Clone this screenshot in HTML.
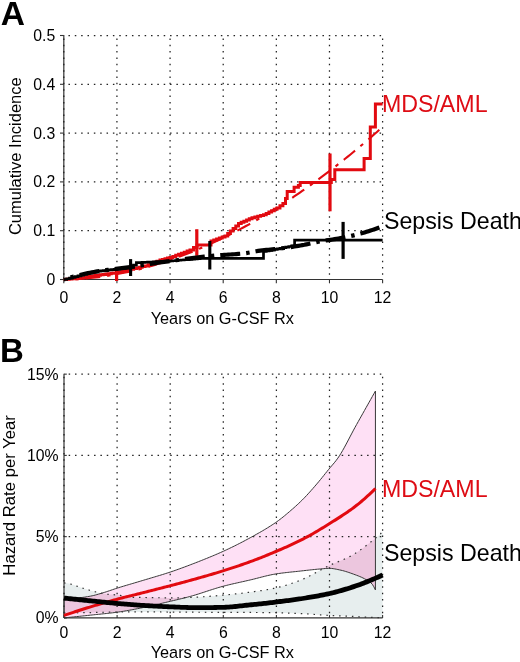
<!DOCTYPE html>
<html><head><meta charset="utf-8"><style>
html,body{margin:0;padding:0;background:#fff;}
svg{display:block;filter:blur(0.35px);font-family:"Liberation Sans", sans-serif;}
</style></head><body>
<svg width="520" height="662" viewBox="0 0 520 662">
<rect width="520" height="662" fill="#fff"/>
<g id="A">
<line x1="63.8" y1="35" x2="63.8" y2="279.5" stroke="#444" stroke-width="1.3"/>
<line x1="63.8" y1="279.5" x2="382.6" y2="279.5" stroke="#333" stroke-width="1.1"/>
<line x1="63.8" y1="279.5" x2="63.8" y2="283.3" stroke="#333" stroke-width="1.1"/>
<line x1="116.93" y1="279.5" x2="116.93" y2="283.3" stroke="#333" stroke-width="1.1"/>
<line x1="170.07" y1="279.5" x2="170.07" y2="283.3" stroke="#333" stroke-width="1.1"/>
<line x1="223.2" y1="279.5" x2="223.2" y2="283.3" stroke="#333" stroke-width="1.1"/>
<line x1="276.33" y1="279.5" x2="276.33" y2="283.3" stroke="#333" stroke-width="1.1"/>
<line x1="329.47" y1="279.5" x2="329.47" y2="283.3" stroke="#333" stroke-width="1.1"/>
<line x1="382.6" y1="279.5" x2="382.6" y2="283.3" stroke="#333" stroke-width="1.1"/>
<line x1="63.8" y1="279.5" x2="60" y2="279.5" stroke="#333" stroke-width="1.1"/>
<line x1="63.8" y1="230.7" x2="60" y2="230.7" stroke="#333" stroke-width="1.1"/>
<line x1="63.8" y1="181.9" x2="60" y2="181.9" stroke="#333" stroke-width="1.1"/>
<line x1="63.8" y1="133.1" x2="60" y2="133.1" stroke="#333" stroke-width="1.1"/>
<line x1="63.8" y1="84.3" x2="60" y2="84.3" stroke="#333" stroke-width="1.1"/>
<line x1="63.8" y1="35.5" x2="60" y2="35.5" stroke="#333" stroke-width="1.1"/>
<line x1="63.8" y1="279.5" x2="63.8" y2="35.5" stroke="#222" stroke-width="1.25" stroke-dasharray="1.5 4.85" stroke-dashoffset="1.7" fill="none"/>
<line x1="116.93" y1="279.5" x2="116.93" y2="35.5" stroke="#222" stroke-width="1.25" stroke-dasharray="1.5 4.85" stroke-dashoffset="1.7" fill="none"/>
<line x1="170.07" y1="279.5" x2="170.07" y2="35.5" stroke="#222" stroke-width="1.25" stroke-dasharray="1.5 4.85" stroke-dashoffset="1.7" fill="none"/>
<line x1="223.2" y1="279.5" x2="223.2" y2="35.5" stroke="#222" stroke-width="1.25" stroke-dasharray="1.5 4.85" stroke-dashoffset="1.7" fill="none"/>
<line x1="276.33" y1="279.5" x2="276.33" y2="35.5" stroke="#222" stroke-width="1.25" stroke-dasharray="1.5 4.85" stroke-dashoffset="1.7" fill="none"/>
<line x1="329.47" y1="279.5" x2="329.47" y2="35.5" stroke="#222" stroke-width="1.25" stroke-dasharray="1.5 4.85" stroke-dashoffset="1.7" fill="none"/>
<line x1="382.6" y1="279.5" x2="382.6" y2="35.5" stroke="#222" stroke-width="1.25" stroke-dasharray="1.5 4.85" stroke-dashoffset="1.7" fill="none"/>
<line x1="63.8" y1="230.7" x2="382.6" y2="230.7" stroke="#222" stroke-width="1.25" stroke-dasharray="1.5 4.85" stroke-dashoffset="1.7" fill="none"/>
<line x1="63.8" y1="181.9" x2="382.6" y2="181.9" stroke="#222" stroke-width="1.25" stroke-dasharray="1.5 4.85" stroke-dashoffset="1.7" fill="none"/>
<line x1="63.8" y1="133.1" x2="382.6" y2="133.1" stroke="#222" stroke-width="1.25" stroke-dasharray="1.5 4.85" stroke-dashoffset="1.7" fill="none"/>
<line x1="63.8" y1="84.3" x2="382.6" y2="84.3" stroke="#222" stroke-width="1.25" stroke-dasharray="1.5 4.85" stroke-dashoffset="1.7" fill="none"/>
<line x1="63.8" y1="35.5" x2="382.6" y2="35.5" stroke="#222" stroke-width="1.25" stroke-dasharray="1.5 4.85" stroke-dashoffset="1.7" fill="none"/>
<polyline points="63.8,279.5 66.5,279.5 66.5,279.28 69.2,279.28 69.2,279.07 71.9,279.07 71.9,278.85 74.6,278.85 74.6,278.63 77.3,278.63 77.3,278.42 80,278.42 80,278.2 83,278.2 83,277.66 86,277.66 86,277.12 89,277.12 89,276.58 92,276.58 92,276.04 95,276.04 95,275.5 97.7,275.5 97.7,275.14 100.4,275.14 100.4,274.77 103.1,274.77 103.1,274.41 105.8,274.41 105.8,274.05 108.5,274.05 108.5,273.69 111.2,273.69 111.2,273.33 113.9,273.33 113.9,272.96 116.6,272.96 116.6,272.6 119.44,272.6 119.44,271.93 122.28,271.93 122.28,271.26 125.12,271.26 125.12,270.59 127.96,270.59 127.96,269.92 130.8,269.92 130.8,269.25 133.64,269.25 133.64,268.58 136.48,268.58 136.48,267.91 139.32,267.91 139.32,267.24 142.16,267.24 142.16,266.57 145,266.57 145,265.9 148,265.9 148,264.72 151,264.72 151,263.54 154,263.54 154,262.36 157,262.36 157,261.18 160,261.18 160,260 162.5,260 162.5,259.38 165,259.38 165,258.75 167.5,258.75 167.5,258.12 170,258.12 170,257.5 172.86,257.5 172.86,256.43 175.71,256.43 175.71,255.36 178.57,255.36 178.57,254.29 181.43,254.29 181.43,253.21 184.29,253.21 184.29,252.14 187.14,252.14 187.14,251.07 190,251.07 190,250 193.5,250 193.5,247.5 197,247.5 197,245 211,245 211,241 213.8,241 213.8,240 216.6,240 216.6,239 219.4,239 219.4,238 222.2,238 222.2,237 225,237 225,236 227.7,236 227.7,233.5 230.4,233.5 230.4,231 233.1,231 233.1,228.5 235.8,228.5 235.8,226 238.5,226 238.5,223.5 241.2,223.5 241.2,222.34 243.9,222.34 243.9,221.18 246.6,221.18 246.6,220.02 249.3,220.02 249.3,218.86 252,218.86 252,217.7 254.88,217.7 254.88,216.97 257.75,216.97 257.75,216.25 260.62,216.25 260.62,215.53 263.5,215.53 263.5,214.8 266.2,214.8 266.2,213.44 268.9,213.44 268.9,212.08 271.6,212.08 271.6,210.72 274.3,210.72 274.3,209.36 277,209.36 277,208 279.95,208 279.95,205.8 282.9,205.8 282.9,203.6 285.5,203.6 285.5,198.4 287.2,198.4 287.2,191.5 294.1,191.5 294.1,187.2 298.4,187.2 298.4,185.5 300.2,185.5 300.2,182.5 331.3,182.5 331.3,179.4 334.8,179.4 334.8,169.7 364.1,169.7 364.1,158.4 370.3,158.4 370.3,127 375.4,127 375.4,104 382.6,104" fill="none" stroke="#e20a10" stroke-width="3" stroke-linejoin="miter"/>
<polyline points="63.8,279.5 66.48,279.48 69.16,279.43 71.84,279.35 74.52,279.24 77.19,279.1 79.87,278.93 82.55,278.75 85.23,278.53 87.91,278.29 90.59,278.03 93.27,277.74 95.95,277.43 98.63,277.09 101.31,276.73 103.98,276.35 106.66,275.95 109.34,275.52 112.02,275.07 114.7,274.6 117.38,274.1 120.06,273.59 122.74,273.05 125.42,272.49 128.1,271.91 130.77,271.3 133.45,270.68 136.13,270.03 138.81,269.36 141.49,268.67 144.17,267.96 146.85,267.23 149.53,266.48 152.21,265.71 154.89,264.91 157.56,264.1 160.24,263.26 162.92,262.41 165.6,261.53 168.28,260.64 170.96,259.72 173.64,258.78 176.32,257.83 179,256.85 181.68,255.85 184.35,254.83 187.03,253.8 189.71,252.74 192.39,251.66 195.07,250.57 197.75,249.45 200.43,248.31 203.11,247.16 205.79,245.98 208.47,244.79 211.14,243.57 213.82,242.34 216.5,241.09 219.18,239.81 221.86,238.52 224.54,237.21 227.22,235.88 229.9,234.53 232.58,233.16 235.26,231.77 237.93,230.37 240.61,228.94 243.29,227.49 245.97,226.03 248.65,224.55 251.33,223.05 254.01,221.52 256.69,219.98 259.37,218.43 262.05,216.85 264.72,215.25 267.4,213.64 270.08,212.01 272.76,210.35 275.44,208.68 278.12,206.99 280.8,205.29 283.48,203.56 286.16,201.81 288.84,200.05 291.51,198.27 294.19,196.47 296.87,194.65 299.55,192.81 302.23,190.96 304.91,189.09 307.59,187.19 310.27,185.28 312.95,183.36 315.63,181.41 318.3,179.44 320.98,177.46 323.66,175.46 326.34,173.44 329.02,171.4 331.7,169.35 334.38,167.28 337.06,165.18 339.74,163.08 342.42,160.95 345.09,158.8 347.77,156.64 350.45,154.46 353.13,152.26 355.81,150.04 358.49,147.81 361.17,145.56 363.85,143.29 366.53,141 369.21,138.69 371.88,136.37 374.56,134.03 377.24,131.67 379.92,129.29 382.6,126.9" fill="none" stroke="#e20a10" stroke-width="2.1" stroke-dasharray="14.5 7 3.5 7" stroke-dashoffset="9.96"/>
<line x1="116.6" y1="268.5" x2="116.6" y2="281" stroke="#e20a10" stroke-width="3.2"/>
<line x1="196.8" y1="229.2" x2="196.8" y2="255.8" stroke="#e20a10" stroke-width="3.2"/>
<line x1="330" y1="153.5" x2="330" y2="211.3" stroke="#e20a10" stroke-width="3.2"/>
<polyline points="63.8,279.5 66.64,279.5 66.64,278.77 69.47,278.77 69.47,278.05 72.31,278.05 72.31,277.32 75.15,277.32 75.15,276.59 77.98,276.59 77.98,275.86 80.82,275.86 80.82,275.14 83.65,275.14 83.65,274.41 86.49,274.41 86.49,273.68 89.33,273.68 89.33,272.95 92.16,272.95 92.16,272.23 95,272.23 95,271.5 97.74,271.5 97.74,271.19 100.48,271.19 100.48,270.88 103.22,270.88 103.22,270.58 105.95,270.58 105.95,270.27 108.69,270.27 108.69,269.96 111.43,269.96 111.43,269.65 114.17,269.65 114.17,269.35 116.91,269.35 116.91,269.04 119.65,269.04 119.65,268.73 122.38,268.73 122.38,268.42 125.12,268.42 125.12,268.12 127.86,268.12 127.86,267.81 130.6,267.81 130.6,267.5 133.5,267.5 133.5,265.1 136.4,265.1 136.4,262.7 139.2,262.7 139.2,262.56 142,262.56 142,262.42 144.8,262.42 144.8,262.27 147.6,262.27 147.6,262.13 150.4,262.13 150.4,261.99 153.2,261.99 153.2,261.85 156,261.85 156,261.71 158.8,261.71 158.8,261.57 161.6,261.57 161.6,261.43 164.4,261.43 164.4,261.28 167.2,261.28 167.2,261.14 170,261.14 170,261 172.73,261 172.73,260.75 175.45,260.75 175.45,260.51 178.18,260.51 178.18,260.26 180.91,260.26 180.91,260.02 183.64,260.02 183.64,259.77 186.36,259.77 186.36,259.53 189.09,259.53 189.09,259.28 191.82,259.28 191.82,259.04 194.55,259.04 194.55,258.79 197.27,258.79 197.27,258.55 200,258.55 200,258.3 263.5,258.3 263.5,251.5 266.25,251.5 266.25,250.98 269,250.98 269,250.47 271.75,250.47 271.75,249.95 274.5,249.95 274.5,249.43 277.25,249.43 277.25,248.92 280,248.92 280,248.4 282.92,248.4 282.92,247.76 285.84,247.76 285.84,247.12 288.76,247.12 288.76,246.48 291.68,246.48 291.68,245.84 294.6,245.84 294.6,245.2 294.6,240.2 382.6,240.2" fill="none" stroke="#000" stroke-width="2.7"/>
<polyline points="63.8,279.5 65.81,278.89 67.81,278.29 69.82,277.7 71.82,277.12 73.83,276.55 75.83,276 77.84,275.47 79.84,274.95 81.85,274.46 83.85,273.99 85.86,273.54 87.86,273.12 89.87,272.73 91.87,272.36 93.88,272.01 95.88,271.67 97.89,271.35 99.89,271.04 101.9,270.75 103.9,270.46 105.91,270.19 107.91,269.92 109.92,269.65 111.92,269.39 113.93,269.14 115.93,268.88 117.94,268.63 119.94,268.37 121.95,268.11 123.95,267.84 125.96,267.57 127.96,267.29 129.97,267 131.97,266.71 133.98,266.41 135.98,266.1 137.99,265.8 139.99,265.49 142,265.18 144,264.87 146.01,264.56 148.01,264.25 150.02,263.95 152.02,263.65 154.03,263.35 156.03,263.06 158.04,262.77 160.04,262.49 162.05,262.22 164.05,261.94 166.06,261.66 168.06,261.38 170.07,261.11 172.07,260.83 174.08,260.55 176.08,260.28 178.09,260 180.09,259.73 182.1,259.46 184.1,259.19 186.11,258.92 188.11,258.66 190.12,258.4 192.12,258.14 194.13,257.89 196.13,257.64 198.14,257.4 200.14,257.16 202.15,256.93 204.15,256.7 206.16,256.48 208.16,256.26 210.17,256.05 212.17,255.85 214.18,255.66 216.18,255.47 218.19,255.3 220.19,255.14 222.2,254.99 224.2,254.86 226.21,254.73 228.21,254.61 230.22,254.48 232.22,254.36 234.23,254.23 236.23,254.09 238.24,253.93 240.24,253.77 242.25,253.58 244.25,253.36 246.26,253.08 248.26,252.75 250.27,252.39 252.27,252.01 254.28,251.63 256.28,251.27 258.29,250.93 260.29,250.64 262.3,250.39 264.3,250.17 266.31,249.96 268.31,249.77 270.32,249.58 272.32,249.39 274.33,249.19 276.33,248.98 278.34,248.76 280.34,248.51 282.35,248.25 284.35,247.99 286.36,247.71 288.36,247.42 290.37,247.13 292.37,246.82 294.38,246.51 296.38,246.19 298.39,245.86 300.39,245.51 302.4,245.16 304.4,244.79 306.41,244.37 308.41,243.94 310.42,243.49 312.42,243.03 314.43,242.58 316.43,242.15 318.44,241.73 320.44,241.36 322.45,241.01 324.45,240.69 326.46,240.39 328.46,240.09 330.47,239.8 332.47,239.5 334.48,239.2 336.48,238.88 338.49,238.53 340.49,238.16 342.5,237.77 344.5,237.36 346.51,236.94 348.51,236.51 350.52,236.06 352.52,235.59 354.53,235.11 356.53,234.61 358.54,234.09 360.54,233.56 362.55,233.01 364.55,232.43 366.56,231.82 368.56,231.19 370.57,230.54 372.57,229.87 374.58,229.17 376.58,228.46 378.59,227.72 380.59,226.97 382.6,226.2" fill="none" stroke="#000" stroke-width="4.2" stroke-dasharray="20 6 3.5 6" stroke-dashoffset="18.97"/>
<line x1="130.6" y1="259.1" x2="130.6" y2="276" stroke="#000" stroke-width="3.1"/>
<line x1="209.8" y1="241" x2="209.8" y2="269.5" stroke="#000" stroke-width="3.1"/>
<line x1="343.1" y1="221.9" x2="343.1" y2="258.9" stroke="#000" stroke-width="3.2"/>
<text x="55.3" y="285" font-size="15.8" text-anchor="end" fill="#000" font-weight="normal" >0</text>
<text x="55.3" y="236.2" font-size="15.8" text-anchor="end" fill="#000" font-weight="normal" >0.1</text>
<text x="55.3" y="187.4" font-size="15.8" text-anchor="end" fill="#000" font-weight="normal" >0.2</text>
<text x="55.3" y="138.6" font-size="15.8" text-anchor="end" fill="#000" font-weight="normal" >0.3</text>
<text x="55.3" y="89.8" font-size="15.8" text-anchor="end" fill="#000" font-weight="normal" >0.4</text>
<text x="55.3" y="41" font-size="15.8" text-anchor="end" fill="#000" font-weight="normal" >0.5</text>
<text x="63.8" y="302.8" font-size="15.8" text-anchor="middle" fill="#000" font-weight="normal" >0</text>
<text x="116.93" y="302.8" font-size="15.8" text-anchor="middle" fill="#000" font-weight="normal" >2</text>
<text x="170.07" y="302.8" font-size="15.8" text-anchor="middle" fill="#000" font-weight="normal" >4</text>
<text x="223.2" y="302.8" font-size="15.8" text-anchor="middle" fill="#000" font-weight="normal" >6</text>
<text x="276.33" y="302.8" font-size="15.8" text-anchor="middle" fill="#000" font-weight="normal" >8</text>
<text x="329.47" y="302.8" font-size="15.8" text-anchor="middle" fill="#000" font-weight="normal" >10</text>
<text x="382.6" y="302.8" font-size="15.8" text-anchor="middle" fill="#000" font-weight="normal" >12</text>
<text x="222.3" y="324.2" font-size="16.3" text-anchor="middle" fill="#000" font-weight="normal" >Years on G-CSF Rx</text>
<text x="20.8" y="156.2" font-size="16.5" text-anchor="middle" fill="#000" font-weight="normal" transform="rotate(-90 20.8 156.2)">Cumulative Incidence</text>
<text x="381.9" y="111.5" font-size="23.2" text-anchor="start" fill="#de0c14" font-weight="normal" >MDS/AML</text>
<text x="384" y="228.9" font-size="23.2" text-anchor="start" fill="#000" font-weight="normal" >Sepsis Death</text>
<text x="0.8" y="24.9" font-size="33.5" text-anchor="start" fill="#000" font-weight="bold" >A</text>
</g>
<g id="B">
<defs><clipPath id="gclip"><polygon points="64,582.96 65.6,583.11 67.2,583.33 68.8,583.6 70.4,583.99 72.01,584.46 73.61,585.01 75.21,585.59 76.81,586.18 78.41,586.76 80.01,587.29 81.61,587.79 83.21,588.3 84.81,588.8 86.41,589.3 88.02,589.79 89.62,590.27 91.22,590.72 92.82,591.15 94.42,591.56 96.02,591.98 97.62,592.4 99.22,592.8 100.82,593.18 102.42,593.52 104.03,593.82 105.63,594.07 107.23,594.25 108.83,594.39 110.43,594.51 112.03,594.61 113.63,594.71 115.23,594.82 116.83,594.96 118.43,595.16 120.04,595.42 121.64,595.74 123.24,596.09 124.84,596.43 126.44,596.74 128.04,597 129.64,597.19 131.24,597.27 132.84,597.32 134.44,597.35 136.05,597.38 137.65,597.41 139.25,597.44 140.85,597.46 142.45,597.47 144.05,597.49 145.65,597.51 147.25,597.53 148.85,597.55 150.45,597.57 152.06,597.59 153.66,597.63 155.26,597.66 156.86,597.7 158.46,597.73 160.06,597.77 161.66,597.8 163.26,597.84 164.86,597.87 166.46,597.89 168.07,597.9 169.67,597.91 171.27,597.91 172.87,597.9 174.47,597.88 176.07,597.85 177.67,597.82 179.27,597.78 180.87,597.74 182.47,597.68 184.08,597.63 185.68,597.57 187.28,597.51 188.88,597.44 190.48,597.37 192.08,597.3 193.68,597.23 195.28,597.16 196.88,597.09 198.48,597.02 200.09,596.94 201.69,596.85 203.29,596.75 204.89,596.65 206.49,596.54 208.09,596.42 209.69,596.3 211.29,596.17 212.89,596.05 214.49,595.91 216.1,595.78 217.7,595.64 219.3,595.5 220.9,595.36 222.5,595.22 224.1,595.08 225.7,594.93 227.3,594.78 228.9,594.63 230.5,594.47 232.11,594.31 233.71,594.14 235.31,593.97 236.91,593.8 238.51,593.62 240.11,593.43 241.71,593.25 243.31,593.05 244.91,592.86 246.51,592.66 248.12,592.45 249.72,592.24 251.32,592.03 252.92,591.81 254.52,591.59 256.12,591.37 257.72,591.14 259.32,590.9 260.92,590.66 262.52,590.41 264.13,590.16 265.73,589.89 267.33,589.61 268.93,589.33 270.53,589.03 272.13,588.72 273.73,588.4 275.33,588.07 276.93,587.72 278.53,587.35 280.14,586.95 281.74,586.53 283.34,586.08 284.94,585.62 286.54,585.13 288.14,584.62 289.74,584.09 291.34,583.55 292.94,582.99 294.54,582.42 296.15,581.83 297.75,581.23 299.35,580.63 300.95,580 302.55,579.33 304.15,578.62 305.75,577.87 307.35,577.09 308.95,576.28 310.55,575.45 312.16,574.6 313.76,573.74 315.36,572.86 316.96,571.98 318.56,571.1 320.16,570.22 321.76,569.35 323.36,568.5 324.96,567.66 326.56,566.84 328.17,566.05 329.77,565.29 331.37,564.56 332.97,563.87 334.57,563.2 336.17,562.55 337.77,561.91 339.37,561.26 340.97,560.61 342.57,559.95 344.18,559.26 345.78,558.54 347.38,557.79 348.98,556.98 350.58,556.13 352.18,555.22 353.78,554.27 355.38,553.28 356.98,552.24 358.58,551.17 360.19,550.06 361.79,548.92 363.39,547.75 364.99,546.55 366.59,545.33 368.19,544.09 369.79,542.83 371.39,541.55 372.99,540.26 374.59,538.96 376.2,537.64 377.8,536.25 379.4,534.79 381,533.29 382.6,531.77 382.6,617.74 381,617.69 379.4,617.63 377.8,617.58 376.2,617.52 374.59,617.46 372.99,617.4 371.39,617.34 369.79,617.27 368.19,617.2 366.59,617.13 364.99,617.05 363.39,616.97 361.79,616.89 360.19,616.81 358.58,616.73 356.98,616.65 355.38,616.57 353.78,616.49 352.18,616.41 350.58,616.33 348.98,616.25 347.38,616.17 345.78,616.09 344.18,616.02 342.57,615.94 340.97,615.87 339.37,615.8 337.77,615.73 336.17,615.67 334.57,615.6 332.97,615.54 331.37,615.47 329.77,615.4 328.17,615.33 326.56,615.26 324.96,615.18 323.36,615.09 321.76,615 320.16,614.89 318.56,614.78 316.96,614.66 315.36,614.53 313.76,614.4 312.16,614.28 310.55,614.15 308.95,614.03 307.35,613.91 305.75,613.8 304.15,613.7 302.55,613.62 300.95,613.54 299.35,613.48 297.75,613.41 296.15,613.35 294.54,613.29 292.94,613.24 291.34,613.18 289.74,613.12 288.14,613.07 286.54,613.02 284.94,612.97 283.34,612.92 281.74,612.88 280.14,612.83 278.53,612.79 276.93,612.75 275.33,612.72 273.73,612.68 272.13,612.65 270.53,612.63 268.93,612.6 267.33,612.58 265.73,612.56 264.13,612.55 262.52,612.53 260.92,612.52 259.32,612.51 257.72,612.5 256.12,612.5 254.52,612.49 252.92,612.48 251.32,612.47 249.72,612.47 248.12,612.46 246.51,612.46 244.91,612.45 243.31,612.45 241.71,612.44 240.11,612.44 238.51,612.43 236.91,612.43 235.31,612.42 233.71,612.42 232.11,612.41 230.5,612.4 228.9,612.4 227.3,612.39 225.7,612.39 224.1,612.38 222.5,612.37 220.9,612.36 219.3,612.35 217.7,612.35 216.1,612.34 214.49,612.33 212.89,612.32 211.29,612.31 209.69,612.3 208.09,612.29 206.49,612.28 204.89,612.27 203.29,612.26 201.69,612.25 200.09,612.24 198.48,612.23 196.88,612.22 195.28,612.21 193.68,612.2 192.08,612.19 190.48,612.18 188.88,612.17 187.28,612.16 185.68,612.15 184.08,612.14 182.47,612.13 180.87,612.12 179.27,612.11 177.67,612.1 176.07,612.09 174.47,612.08 172.87,612.07 171.27,612.06 169.67,612.05 168.07,612.04 166.46,612.02 164.86,612.01 163.26,612 161.66,611.99 160.06,611.97 158.46,611.96 156.86,611.95 155.26,611.94 153.66,611.92 152.06,611.91 150.45,611.91 148.85,611.9 147.25,611.89 145.65,611.89 144.05,611.89 142.45,611.89 140.85,611.89 139.25,611.89 137.65,611.9 136.05,611.91 134.44,611.91 132.84,611.92 131.24,611.93 129.64,611.94 128.04,611.96 126.44,611.97 124.84,611.98 123.24,611.99 121.64,612.01 120.04,612.02 118.43,612.04 116.83,612.05 115.23,612.07 113.63,612.09 112.03,612.11 110.43,612.14 108.83,612.17 107.23,612.2 105.63,612.23 104.03,612.26 102.42,612.29 100.82,612.33 99.22,612.36 97.62,612.39 96.02,612.43 94.42,612.46 92.82,612.49 91.22,612.53 89.62,612.55 88.02,612.58 86.41,612.61 84.81,612.64 83.21,612.67 81.61,612.7 80.01,612.73 78.41,612.76 76.81,612.79 75.21,612.82 73.61,612.85 72.01,612.88 70.4,612.91 68.8,612.94 67.2,612.97 65.6,613 64,613.02"/></clipPath></defs>
<polygon points="64,582.96 65.6,583.11 67.2,583.33 68.8,583.6 70.4,583.99 72.01,584.46 73.61,585.01 75.21,585.59 76.81,586.18 78.41,586.76 80.01,587.29 81.61,587.79 83.21,588.3 84.81,588.8 86.41,589.3 88.02,589.79 89.62,590.27 91.22,590.72 92.82,591.15 94.42,591.56 96.02,591.98 97.62,592.4 99.22,592.8 100.82,593.18 102.42,593.52 104.03,593.82 105.63,594.07 107.23,594.25 108.83,594.39 110.43,594.51 112.03,594.61 113.63,594.71 115.23,594.82 116.83,594.96 118.43,595.16 120.04,595.42 121.64,595.74 123.24,596.09 124.84,596.43 126.44,596.74 128.04,597 129.64,597.19 131.24,597.27 132.84,597.32 134.44,597.35 136.05,597.38 137.65,597.41 139.25,597.44 140.85,597.46 142.45,597.47 144.05,597.49 145.65,597.51 147.25,597.53 148.85,597.55 150.45,597.57 152.06,597.59 153.66,597.63 155.26,597.66 156.86,597.7 158.46,597.73 160.06,597.77 161.66,597.8 163.26,597.84 164.86,597.87 166.46,597.89 168.07,597.9 169.67,597.91 171.27,597.91 172.87,597.9 174.47,597.88 176.07,597.85 177.67,597.82 179.27,597.78 180.87,597.74 182.47,597.68 184.08,597.63 185.68,597.57 187.28,597.51 188.88,597.44 190.48,597.37 192.08,597.3 193.68,597.23 195.28,597.16 196.88,597.09 198.48,597.02 200.09,596.94 201.69,596.85 203.29,596.75 204.89,596.65 206.49,596.54 208.09,596.42 209.69,596.3 211.29,596.17 212.89,596.05 214.49,595.91 216.1,595.78 217.7,595.64 219.3,595.5 220.9,595.36 222.5,595.22 224.1,595.08 225.7,594.93 227.3,594.78 228.9,594.63 230.5,594.47 232.11,594.31 233.71,594.14 235.31,593.97 236.91,593.8 238.51,593.62 240.11,593.43 241.71,593.25 243.31,593.05 244.91,592.86 246.51,592.66 248.12,592.45 249.72,592.24 251.32,592.03 252.92,591.81 254.52,591.59 256.12,591.37 257.72,591.14 259.32,590.9 260.92,590.66 262.52,590.41 264.13,590.16 265.73,589.89 267.33,589.61 268.93,589.33 270.53,589.03 272.13,588.72 273.73,588.4 275.33,588.07 276.93,587.72 278.53,587.35 280.14,586.95 281.74,586.53 283.34,586.08 284.94,585.62 286.54,585.13 288.14,584.62 289.74,584.09 291.34,583.55 292.94,582.99 294.54,582.42 296.15,581.83 297.75,581.23 299.35,580.63 300.95,580 302.55,579.33 304.15,578.62 305.75,577.87 307.35,577.09 308.95,576.28 310.55,575.45 312.16,574.6 313.76,573.74 315.36,572.86 316.96,571.98 318.56,571.1 320.16,570.22 321.76,569.35 323.36,568.5 324.96,567.66 326.56,566.84 328.17,566.05 329.77,565.29 331.37,564.56 332.97,563.87 334.57,563.2 336.17,562.55 337.77,561.91 339.37,561.26 340.97,560.61 342.57,559.95 344.18,559.26 345.78,558.54 347.38,557.79 348.98,556.98 350.58,556.13 352.18,555.22 353.78,554.27 355.38,553.28 356.98,552.24 358.58,551.17 360.19,550.06 361.79,548.92 363.39,547.75 364.99,546.55 366.59,545.33 368.19,544.09 369.79,542.83 371.39,541.55 372.99,540.26 374.59,538.96 376.2,537.64 377.8,536.25 379.4,534.79 381,533.29 382.6,531.77 382.6,617.74 381,617.69 379.4,617.63 377.8,617.58 376.2,617.52 374.59,617.46 372.99,617.4 371.39,617.34 369.79,617.27 368.19,617.2 366.59,617.13 364.99,617.05 363.39,616.97 361.79,616.89 360.19,616.81 358.58,616.73 356.98,616.65 355.38,616.57 353.78,616.49 352.18,616.41 350.58,616.33 348.98,616.25 347.38,616.17 345.78,616.09 344.18,616.02 342.57,615.94 340.97,615.87 339.37,615.8 337.77,615.73 336.17,615.67 334.57,615.6 332.97,615.54 331.37,615.47 329.77,615.4 328.17,615.33 326.56,615.26 324.96,615.18 323.36,615.09 321.76,615 320.16,614.89 318.56,614.78 316.96,614.66 315.36,614.53 313.76,614.4 312.16,614.28 310.55,614.15 308.95,614.03 307.35,613.91 305.75,613.8 304.15,613.7 302.55,613.62 300.95,613.54 299.35,613.48 297.75,613.41 296.15,613.35 294.54,613.29 292.94,613.24 291.34,613.18 289.74,613.12 288.14,613.07 286.54,613.02 284.94,612.97 283.34,612.92 281.74,612.88 280.14,612.83 278.53,612.79 276.93,612.75 275.33,612.72 273.73,612.68 272.13,612.65 270.53,612.63 268.93,612.6 267.33,612.58 265.73,612.56 264.13,612.55 262.52,612.53 260.92,612.52 259.32,612.51 257.72,612.5 256.12,612.5 254.52,612.49 252.92,612.48 251.32,612.47 249.72,612.47 248.12,612.46 246.51,612.46 244.91,612.45 243.31,612.45 241.71,612.44 240.11,612.44 238.51,612.43 236.91,612.43 235.31,612.42 233.71,612.42 232.11,612.41 230.5,612.4 228.9,612.4 227.3,612.39 225.7,612.39 224.1,612.38 222.5,612.37 220.9,612.36 219.3,612.35 217.7,612.35 216.1,612.34 214.49,612.33 212.89,612.32 211.29,612.31 209.69,612.3 208.09,612.29 206.49,612.28 204.89,612.27 203.29,612.26 201.69,612.25 200.09,612.24 198.48,612.23 196.88,612.22 195.28,612.21 193.68,612.2 192.08,612.19 190.48,612.18 188.88,612.17 187.28,612.16 185.68,612.15 184.08,612.14 182.47,612.13 180.87,612.12 179.27,612.11 177.67,612.1 176.07,612.09 174.47,612.08 172.87,612.07 171.27,612.06 169.67,612.05 168.07,612.04 166.46,612.02 164.86,612.01 163.26,612 161.66,611.99 160.06,611.97 158.46,611.96 156.86,611.95 155.26,611.94 153.66,611.92 152.06,611.91 150.45,611.91 148.85,611.9 147.25,611.89 145.65,611.89 144.05,611.89 142.45,611.89 140.85,611.89 139.25,611.89 137.65,611.9 136.05,611.91 134.44,611.91 132.84,611.92 131.24,611.93 129.64,611.94 128.04,611.96 126.44,611.97 124.84,611.98 123.24,611.99 121.64,612.01 120.04,612.02 118.43,612.04 116.83,612.05 115.23,612.07 113.63,612.09 112.03,612.11 110.43,612.14 108.83,612.17 107.23,612.2 105.63,612.23 104.03,612.26 102.42,612.29 100.82,612.33 99.22,612.36 97.62,612.39 96.02,612.43 94.42,612.46 92.82,612.49 91.22,612.53 89.62,612.55 88.02,612.58 86.41,612.61 84.81,612.64 83.21,612.67 81.61,612.7 80.01,612.73 78.41,612.76 76.81,612.79 75.21,612.82 73.61,612.85 72.01,612.88 70.4,612.91 68.8,612.94 67.2,612.97 65.6,613 64,613.02" fill="#e7eeee"/>
<polygon points="64,598.4 65.56,598.39 67.13,598.36 68.69,598.32 70.26,598.27 71.82,598.2 73.39,598.13 74.95,598.04 76.52,597.96 78.08,597.86 79.65,597.73 81.21,597.57 82.78,597.38 84.34,597.16 85.91,596.92 87.47,596.66 89.04,596.39 90.6,596.12 92.17,595.81 93.73,595.45 95.3,595.05 96.86,594.62 98.43,594.17 99.99,593.71 101.56,593.23 103.12,592.76 104.69,592.29 106.25,591.8 107.82,591.28 109.38,590.76 110.95,590.22 112.51,589.68 114.08,589.15 115.64,588.63 117.21,588.13 118.77,587.64 120.34,587.15 121.9,586.67 123.47,586.2 125.03,585.72 126.6,585.26 128.16,584.79 129.73,584.33 131.29,583.87 132.86,583.41 134.42,582.94 135.99,582.48 137.55,582.02 139.12,581.56 140.68,581.09 142.25,580.62 143.81,580.15 145.38,579.68 146.94,579.21 148.51,578.74 150.07,578.28 151.64,577.81 153.2,577.35 154.77,576.88 156.33,576.42 157.9,575.95 159.46,575.47 161.03,575 162.59,574.52 164.16,574.03 165.72,573.53 167.29,573.03 168.85,572.52 170.42,572 171.98,571.47 173.55,570.94 175.11,570.4 176.68,569.85 178.24,569.29 179.81,568.73 181.37,568.16 182.94,567.59 184.5,567.01 186.07,566.42 187.63,565.83 189.2,565.24 190.76,564.64 192.33,564.04 193.89,563.44 195.46,562.83 197.02,562.22 198.59,561.61 200.15,560.99 201.72,560.37 203.28,559.75 204.85,559.12 206.41,558.49 207.98,557.86 209.54,557.21 211.11,556.57 212.67,555.91 214.24,555.25 215.8,554.58 217.37,553.91 218.93,553.23 220.5,552.54 222.06,551.83 223.63,551.13 225.19,550.41 226.76,549.68 228.32,548.94 229.89,548.2 231.45,547.44 233.02,546.68 234.58,545.91 236.15,545.13 237.71,544.34 239.28,543.55 240.84,542.74 242.41,541.93 243.97,541.11 245.54,540.28 247.1,539.44 248.67,538.59 250.23,537.74 251.8,536.88 253.36,536.02 254.93,535.16 256.49,534.28 258.06,533.4 259.62,532.51 261.19,531.61 262.75,530.7 264.32,529.77 265.88,528.83 267.45,527.88 269.01,526.9 270.58,525.91 272.14,524.89 273.71,523.86 275.27,522.8 276.84,521.72 278.4,520.59 279.97,519.42 281.53,518.21 283.1,516.96 284.66,515.68 286.23,514.38 287.79,513.06 289.36,511.73 290.92,510.39 292.49,509.03 294.05,507.65 295.62,506.25 297.18,504.82 298.75,503.36 300.31,501.87 301.88,500.34 303.44,498.78 305.01,497.17 306.57,495.52 308.14,493.82 309.7,492.1 311.27,490.34 312.83,488.56 314.4,486.76 315.96,484.95 317.53,483.12 319.09,481.25 320.66,479.35 322.22,477.43 323.79,475.48 325.35,473.53 326.92,471.59 328.48,469.65 330.05,467.74 331.61,465.89 333.18,464.08 334.74,462.22 336.31,460.26 337.87,458.12 339.44,455.79 341,453.28 342.57,450.62 344.13,447.85 345.7,444.98 347.26,442.04 348.83,439.06 350.39,436.07 351.96,433.08 353.52,430.13 355.09,427.24 356.65,424.43 358.22,421.63 359.78,418.85 361.35,416.06 362.91,413.27 364.48,410.49 366.04,407.7 367.61,404.92 369.17,402.15 370.74,399.37 372.3,396.59 373.87,393.82 375.43,391.05 375.43,589.95 373.87,586.8 372.3,584.31 370.74,582.74 369.17,581.49 367.61,580.46 366.04,579.57 364.48,578.72 362.91,577.93 361.35,577.2 359.78,576.52 358.22,575.89 356.65,575.29 355.09,574.71 353.52,574.14 351.96,573.57 350.39,573.02 348.83,572.48 347.26,571.96 345.7,571.47 344.13,571.01 342.57,570.59 341,570.21 339.44,569.88 337.87,569.54 336.31,569.21 334.74,568.9 333.18,568.63 331.61,568.44 330.05,568.35 328.48,568.35 326.92,568.41 325.35,568.52 323.79,568.65 322.22,568.79 320.66,568.93 319.09,569.06 317.53,569.2 315.96,569.34 314.4,569.5 312.83,569.66 311.27,569.83 309.7,570 308.14,570.18 306.57,570.35 305.01,570.53 303.44,570.71 301.88,570.89 300.31,571.07 298.75,571.24 297.18,571.41 295.62,571.57 294.05,571.74 292.49,571.9 290.92,572.06 289.36,572.23 287.79,572.4 286.23,572.57 284.66,572.75 283.1,572.94 281.53,573.14 279.97,573.35 278.4,573.56 276.84,573.8 275.27,574.04 273.71,574.32 272.14,574.62 270.58,574.94 269.01,575.28 267.45,575.64 265.88,576.01 264.32,576.39 262.75,576.79 261.19,577.18 259.62,577.59 258.06,577.99 256.49,578.4 254.93,578.8 253.36,579.19 251.8,579.57 250.23,579.95 248.67,580.31 247.1,580.67 245.54,581.02 243.97,581.37 242.41,581.72 240.84,582.07 239.28,582.42 237.71,582.77 236.15,583.12 234.58,583.47 233.02,583.83 231.45,584.19 229.89,584.56 228.32,584.94 226.76,585.33 225.19,585.72 223.63,586.13 222.06,586.54 220.5,586.98 218.93,587.43 217.37,587.9 215.8,588.37 214.24,588.86 212.67,589.36 211.11,589.86 209.54,590.37 207.98,590.89 206.41,591.4 204.85,591.92 203.28,592.43 201.72,592.94 200.15,593.44 198.59,593.94 197.02,594.43 195.46,594.91 193.89,595.38 192.33,595.83 190.76,596.27 189.2,596.7 187.63,597.11 186.07,597.51 184.5,597.91 182.94,598.3 181.37,598.68 179.81,599.06 178.24,599.43 176.68,599.8 175.11,600.17 173.55,600.54 171.98,600.9 170.42,601.27 168.85,601.64 167.29,602.02 165.72,602.39 164.16,602.76 162.59,603.14 161.03,603.51 159.46,603.88 157.9,604.25 156.33,604.62 154.77,604.98 153.2,605.35 151.64,605.7 150.07,606.06 148.51,606.41 146.94,606.75 145.38,607.09 143.81,607.42 142.25,607.74 140.68,608.05 139.12,608.36 137.55,608.67 135.99,608.98 134.42,609.28 132.86,609.58 131.29,609.87 129.73,610.16 128.16,610.44 126.6,610.72 125.03,610.99 123.47,611.25 121.9,611.5 120.34,611.75 118.77,611.98 117.21,612.2 115.64,612.41 114.08,612.61 112.51,612.8 110.95,612.99 109.38,613.17 107.82,613.34 106.25,613.51 104.69,613.68 103.12,613.84 101.56,614.01 99.99,614.17 98.43,614.32 96.86,614.48 95.3,614.64 93.73,614.8 92.17,614.97 90.6,615.13 89.04,615.3 87.47,615.47 85.91,615.63 84.34,615.8 82.78,615.96 81.21,616.13 79.65,616.29 78.08,616.45 76.52,616.62 74.95,616.78 73.39,616.94 71.82,617.1 70.26,617.26 68.69,617.42 67.13,617.58 65.56,617.74 64,617.9" fill="#fee0f5"/>
<polygon points="64,598.4 65.56,598.39 67.13,598.36 68.69,598.32 70.26,598.27 71.82,598.2 73.39,598.13 74.95,598.04 76.52,597.96 78.08,597.86 79.65,597.73 81.21,597.57 82.78,597.38 84.34,597.16 85.91,596.92 87.47,596.66 89.04,596.39 90.6,596.12 92.17,595.81 93.73,595.45 95.3,595.05 96.86,594.62 98.43,594.17 99.99,593.71 101.56,593.23 103.12,592.76 104.69,592.29 106.25,591.8 107.82,591.28 109.38,590.76 110.95,590.22 112.51,589.68 114.08,589.15 115.64,588.63 117.21,588.13 118.77,587.64 120.34,587.15 121.9,586.67 123.47,586.2 125.03,585.72 126.6,585.26 128.16,584.79 129.73,584.33 131.29,583.87 132.86,583.41 134.42,582.94 135.99,582.48 137.55,582.02 139.12,581.56 140.68,581.09 142.25,580.62 143.81,580.15 145.38,579.68 146.94,579.21 148.51,578.74 150.07,578.28 151.64,577.81 153.2,577.35 154.77,576.88 156.33,576.42 157.9,575.95 159.46,575.47 161.03,575 162.59,574.52 164.16,574.03 165.72,573.53 167.29,573.03 168.85,572.52 170.42,572 171.98,571.47 173.55,570.94 175.11,570.4 176.68,569.85 178.24,569.29 179.81,568.73 181.37,568.16 182.94,567.59 184.5,567.01 186.07,566.42 187.63,565.83 189.2,565.24 190.76,564.64 192.33,564.04 193.89,563.44 195.46,562.83 197.02,562.22 198.59,561.61 200.15,560.99 201.72,560.37 203.28,559.75 204.85,559.12 206.41,558.49 207.98,557.86 209.54,557.21 211.11,556.57 212.67,555.91 214.24,555.25 215.8,554.58 217.37,553.91 218.93,553.23 220.5,552.54 222.06,551.83 223.63,551.13 225.19,550.41 226.76,549.68 228.32,548.94 229.89,548.2 231.45,547.44 233.02,546.68 234.58,545.91 236.15,545.13 237.71,544.34 239.28,543.55 240.84,542.74 242.41,541.93 243.97,541.11 245.54,540.28 247.1,539.44 248.67,538.59 250.23,537.74 251.8,536.88 253.36,536.02 254.93,535.16 256.49,534.28 258.06,533.4 259.62,532.51 261.19,531.61 262.75,530.7 264.32,529.77 265.88,528.83 267.45,527.88 269.01,526.9 270.58,525.91 272.14,524.89 273.71,523.86 275.27,522.8 276.84,521.72 278.4,520.59 279.97,519.42 281.53,518.21 283.1,516.96 284.66,515.68 286.23,514.38 287.79,513.06 289.36,511.73 290.92,510.39 292.49,509.03 294.05,507.65 295.62,506.25 297.18,504.82 298.75,503.36 300.31,501.87 301.88,500.34 303.44,498.78 305.01,497.17 306.57,495.52 308.14,493.82 309.7,492.1 311.27,490.34 312.83,488.56 314.4,486.76 315.96,484.95 317.53,483.12 319.09,481.25 320.66,479.35 322.22,477.43 323.79,475.48 325.35,473.53 326.92,471.59 328.48,469.65 330.05,467.74 331.61,465.89 333.18,464.08 334.74,462.22 336.31,460.26 337.87,458.12 339.44,455.79 341,453.28 342.57,450.62 344.13,447.85 345.7,444.98 347.26,442.04 348.83,439.06 350.39,436.07 351.96,433.08 353.52,430.13 355.09,427.24 356.65,424.43 358.22,421.63 359.78,418.85 361.35,416.06 362.91,413.27 364.48,410.49 366.04,407.7 367.61,404.92 369.17,402.15 370.74,399.37 372.3,396.59 373.87,393.82 375.43,391.05 375.43,589.95 373.87,586.8 372.3,584.31 370.74,582.74 369.17,581.49 367.61,580.46 366.04,579.57 364.48,578.72 362.91,577.93 361.35,577.2 359.78,576.52 358.22,575.89 356.65,575.29 355.09,574.71 353.52,574.14 351.96,573.57 350.39,573.02 348.83,572.48 347.26,571.96 345.7,571.47 344.13,571.01 342.57,570.59 341,570.21 339.44,569.88 337.87,569.54 336.31,569.21 334.74,568.9 333.18,568.63 331.61,568.44 330.05,568.35 328.48,568.35 326.92,568.41 325.35,568.52 323.79,568.65 322.22,568.79 320.66,568.93 319.09,569.06 317.53,569.2 315.96,569.34 314.4,569.5 312.83,569.66 311.27,569.83 309.7,570 308.14,570.18 306.57,570.35 305.01,570.53 303.44,570.71 301.88,570.89 300.31,571.07 298.75,571.24 297.18,571.41 295.62,571.57 294.05,571.74 292.49,571.9 290.92,572.06 289.36,572.23 287.79,572.4 286.23,572.57 284.66,572.75 283.1,572.94 281.53,573.14 279.97,573.35 278.4,573.56 276.84,573.8 275.27,574.04 273.71,574.32 272.14,574.62 270.58,574.94 269.01,575.28 267.45,575.64 265.88,576.01 264.32,576.39 262.75,576.79 261.19,577.18 259.62,577.59 258.06,577.99 256.49,578.4 254.93,578.8 253.36,579.19 251.8,579.57 250.23,579.95 248.67,580.31 247.1,580.67 245.54,581.02 243.97,581.37 242.41,581.72 240.84,582.07 239.28,582.42 237.71,582.77 236.15,583.12 234.58,583.47 233.02,583.83 231.45,584.19 229.89,584.56 228.32,584.94 226.76,585.33 225.19,585.72 223.63,586.13 222.06,586.54 220.5,586.98 218.93,587.43 217.37,587.9 215.8,588.37 214.24,588.86 212.67,589.36 211.11,589.86 209.54,590.37 207.98,590.89 206.41,591.4 204.85,591.92 203.28,592.43 201.72,592.94 200.15,593.44 198.59,593.94 197.02,594.43 195.46,594.91 193.89,595.38 192.33,595.83 190.76,596.27 189.2,596.7 187.63,597.11 186.07,597.51 184.5,597.91 182.94,598.3 181.37,598.68 179.81,599.06 178.24,599.43 176.68,599.8 175.11,600.17 173.55,600.54 171.98,600.9 170.42,601.27 168.85,601.64 167.29,602.02 165.72,602.39 164.16,602.76 162.59,603.14 161.03,603.51 159.46,603.88 157.9,604.25 156.33,604.62 154.77,604.98 153.2,605.35 151.64,605.7 150.07,606.06 148.51,606.41 146.94,606.75 145.38,607.09 143.81,607.42 142.25,607.74 140.68,608.05 139.12,608.36 137.55,608.67 135.99,608.98 134.42,609.28 132.86,609.58 131.29,609.87 129.73,610.16 128.16,610.44 126.6,610.72 125.03,610.99 123.47,611.25 121.9,611.5 120.34,611.75 118.77,611.98 117.21,612.2 115.64,612.41 114.08,612.61 112.51,612.8 110.95,612.99 109.38,613.17 107.82,613.34 106.25,613.51 104.69,613.68 103.12,613.84 101.56,614.01 99.99,614.17 98.43,614.32 96.86,614.48 95.3,614.64 93.73,614.8 92.17,614.97 90.6,615.13 89.04,615.3 87.47,615.47 85.91,615.63 84.34,615.8 82.78,615.96 81.21,616.13 79.65,616.29 78.08,616.45 76.52,616.62 74.95,616.78 73.39,616.94 71.82,617.1 70.26,617.26 68.69,617.42 67.13,617.58 65.56,617.74 64,617.9" fill="#ecc6de" clip-path="url(#gclip)"/>
<line x1="64" y1="373.65" x2="64" y2="617.9" stroke="#444" stroke-width="1.3"/>
<line x1="64" y1="617.9" x2="382.6" y2="617.9" stroke="#333" stroke-width="1.1"/>
<line x1="64" y1="617.9" x2="64" y2="615.1" stroke="#333" stroke-width="1.1"/>
<line x1="117.1" y1="617.9" x2="117.1" y2="615.1" stroke="#333" stroke-width="1.1"/>
<line x1="170.2" y1="617.9" x2="170.2" y2="615.1" stroke="#333" stroke-width="1.1"/>
<line x1="223.3" y1="617.9" x2="223.3" y2="615.1" stroke="#333" stroke-width="1.1"/>
<line x1="276.4" y1="617.9" x2="276.4" y2="615.1" stroke="#333" stroke-width="1.1"/>
<line x1="329.5" y1="617.9" x2="329.5" y2="615.1" stroke="#333" stroke-width="1.1"/>
<line x1="382.6" y1="617.9" x2="382.6" y2="615.1" stroke="#333" stroke-width="1.1"/>
<line x1="64" y1="617.9" x2="66.8" y2="617.9" stroke="#333" stroke-width="1.1"/>
<line x1="64" y1="536.65" x2="66.8" y2="536.65" stroke="#333" stroke-width="1.1"/>
<line x1="64" y1="455.4" x2="66.8" y2="455.4" stroke="#333" stroke-width="1.1"/>
<line x1="64" y1="374.15" x2="66.8" y2="374.15" stroke="#333" stroke-width="1.1"/>
<line x1="64" y1="617.9" x2="64" y2="374.15" stroke="#222" stroke-width="1.25" stroke-dasharray="1.5 4.85" stroke-dashoffset="1.7" fill="none"/>
<line x1="117.1" y1="617.9" x2="117.1" y2="374.15" stroke="#222" stroke-width="1.25" stroke-dasharray="1.5 4.85" stroke-dashoffset="1.7" fill="none"/>
<line x1="170.2" y1="617.9" x2="170.2" y2="374.15" stroke="#222" stroke-width="1.25" stroke-dasharray="1.5 4.85" stroke-dashoffset="1.7" fill="none"/>
<line x1="223.3" y1="617.9" x2="223.3" y2="374.15" stroke="#222" stroke-width="1.25" stroke-dasharray="1.5 4.85" stroke-dashoffset="1.7" fill="none"/>
<line x1="276.4" y1="617.9" x2="276.4" y2="374.15" stroke="#222" stroke-width="1.25" stroke-dasharray="1.5 4.85" stroke-dashoffset="1.7" fill="none"/>
<line x1="329.5" y1="617.9" x2="329.5" y2="374.15" stroke="#222" stroke-width="1.25" stroke-dasharray="1.5 4.85" stroke-dashoffset="1.7" fill="none"/>
<line x1="382.6" y1="617.9" x2="382.6" y2="374.15" stroke="#222" stroke-width="1.25" stroke-dasharray="1.5 4.85" stroke-dashoffset="1.7" fill="none"/>
<line x1="64" y1="536.65" x2="382.6" y2="536.65" stroke="#222" stroke-width="1.25" stroke-dasharray="1.5 4.85" stroke-dashoffset="1.7" fill="none"/>
<line x1="64" y1="455.4" x2="382.6" y2="455.4" stroke="#222" stroke-width="1.25" stroke-dasharray="1.5 4.85" stroke-dashoffset="1.7" fill="none"/>
<line x1="64" y1="374.15" x2="382.6" y2="374.15" stroke="#222" stroke-width="1.25" stroke-dasharray="1.5 4.85" stroke-dashoffset="1.7" fill="none"/>
<polyline points="64,582.96 65.6,583.11 67.2,583.33 68.8,583.6 70.4,583.99 72.01,584.46 73.61,585.01 75.21,585.59 76.81,586.18 78.41,586.76 80.01,587.29 81.61,587.79 83.21,588.3 84.81,588.8 86.41,589.3 88.02,589.79 89.62,590.27 91.22,590.72 92.82,591.15 94.42,591.56 96.02,591.98 97.62,592.4 99.22,592.8 100.82,593.18 102.42,593.52 104.03,593.82 105.63,594.07 107.23,594.25 108.83,594.39 110.43,594.51 112.03,594.61 113.63,594.71 115.23,594.82 116.83,594.96 118.43,595.16 120.04,595.42 121.64,595.74 123.24,596.09 124.84,596.43 126.44,596.74 128.04,597 129.64,597.19 131.24,597.27 132.84,597.32 134.44,597.35 136.05,597.38 137.65,597.41 139.25,597.44 140.85,597.46 142.45,597.47 144.05,597.49 145.65,597.51 147.25,597.53 148.85,597.55 150.45,597.57 152.06,597.59 153.66,597.63 155.26,597.66 156.86,597.7 158.46,597.73 160.06,597.77 161.66,597.8 163.26,597.84 164.86,597.87 166.46,597.89 168.07,597.9 169.67,597.91 171.27,597.91 172.87,597.9 174.47,597.88 176.07,597.85 177.67,597.82 179.27,597.78 180.87,597.74 182.47,597.68 184.08,597.63 185.68,597.57 187.28,597.51 188.88,597.44 190.48,597.37 192.08,597.3 193.68,597.23 195.28,597.16 196.88,597.09 198.48,597.02 200.09,596.94 201.69,596.85 203.29,596.75 204.89,596.65 206.49,596.54 208.09,596.42 209.69,596.3 211.29,596.17 212.89,596.05 214.49,595.91 216.1,595.78 217.7,595.64 219.3,595.5 220.9,595.36 222.5,595.22 224.1,595.08 225.7,594.93 227.3,594.78 228.9,594.63 230.5,594.47 232.11,594.31 233.71,594.14 235.31,593.97 236.91,593.8 238.51,593.62 240.11,593.43 241.71,593.25 243.31,593.05 244.91,592.86 246.51,592.66 248.12,592.45 249.72,592.24 251.32,592.03 252.92,591.81 254.52,591.59 256.12,591.37 257.72,591.14 259.32,590.9 260.92,590.66 262.52,590.41 264.13,590.16 265.73,589.89 267.33,589.61 268.93,589.33 270.53,589.03 272.13,588.72 273.73,588.4 275.33,588.07 276.93,587.72 278.53,587.35 280.14,586.95 281.74,586.53 283.34,586.08 284.94,585.62 286.54,585.13 288.14,584.62 289.74,584.09 291.34,583.55 292.94,582.99 294.54,582.42 296.15,581.83 297.75,581.23 299.35,580.63 300.95,580 302.55,579.33 304.15,578.62 305.75,577.87 307.35,577.09 308.95,576.28 310.55,575.45 312.16,574.6 313.76,573.74 315.36,572.86 316.96,571.98 318.56,571.1 320.16,570.22 321.76,569.35 323.36,568.5 324.96,567.66 326.56,566.84 328.17,566.05 329.77,565.29 331.37,564.56 332.97,563.87 334.57,563.2 336.17,562.55 337.77,561.91 339.37,561.26 340.97,560.61 342.57,559.95 344.18,559.26 345.78,558.54 347.38,557.79 348.98,556.98 350.58,556.13 352.18,555.22 353.78,554.27 355.38,553.28 356.98,552.24 358.58,551.17 360.19,550.06 361.79,548.92 363.39,547.75 364.99,546.55 366.59,545.33 368.19,544.09 369.79,542.83 371.39,541.55 372.99,540.26 374.59,538.96 376.2,537.64 377.8,536.25 379.4,534.79 381,533.29 382.6,531.77" fill="none" stroke="#333" stroke-width="1.2" stroke-dasharray="1.5 4.9"/>
<polyline points="64,613.02 65.6,613 67.2,612.97 68.8,612.94 70.4,612.91 72.01,612.88 73.61,612.85 75.21,612.82 76.81,612.79 78.41,612.76 80.01,612.73 81.61,612.7 83.21,612.67 84.81,612.64 86.41,612.61 88.02,612.58 89.62,612.55 91.22,612.53 92.82,612.49 94.42,612.46 96.02,612.43 97.62,612.39 99.22,612.36 100.82,612.33 102.42,612.29 104.03,612.26 105.63,612.23 107.23,612.2 108.83,612.17 110.43,612.14 112.03,612.11 113.63,612.09 115.23,612.07 116.83,612.05 118.43,612.04 120.04,612.02 121.64,612.01 123.24,611.99 124.84,611.98 126.44,611.97 128.04,611.96 129.64,611.94 131.24,611.93 132.84,611.92 134.44,611.91 136.05,611.91 137.65,611.9 139.25,611.89 140.85,611.89 142.45,611.89 144.05,611.89 145.65,611.89 147.25,611.89 148.85,611.9 150.45,611.91 152.06,611.91 153.66,611.92 155.26,611.94 156.86,611.95 158.46,611.96 160.06,611.97 161.66,611.99 163.26,612 164.86,612.01 166.46,612.02 168.07,612.04 169.67,612.05 171.27,612.06 172.87,612.07 174.47,612.08 176.07,612.09 177.67,612.1 179.27,612.11 180.87,612.12 182.47,612.13 184.08,612.14 185.68,612.15 187.28,612.16 188.88,612.17 190.48,612.18 192.08,612.19 193.68,612.2 195.28,612.21 196.88,612.22 198.48,612.23 200.09,612.24 201.69,612.25 203.29,612.26 204.89,612.27 206.49,612.28 208.09,612.29 209.69,612.3 211.29,612.31 212.89,612.32 214.49,612.33 216.1,612.34 217.7,612.35 219.3,612.35 220.9,612.36 222.5,612.37 224.1,612.38 225.7,612.39 227.3,612.39 228.9,612.4 230.5,612.4 232.11,612.41 233.71,612.42 235.31,612.42 236.91,612.43 238.51,612.43 240.11,612.44 241.71,612.44 243.31,612.45 244.91,612.45 246.51,612.46 248.12,612.46 249.72,612.47 251.32,612.47 252.92,612.48 254.52,612.49 256.12,612.5 257.72,612.5 259.32,612.51 260.92,612.52 262.52,612.53 264.13,612.55 265.73,612.56 267.33,612.58 268.93,612.6 270.53,612.63 272.13,612.65 273.73,612.68 275.33,612.72 276.93,612.75 278.53,612.79 280.14,612.83 281.74,612.88 283.34,612.92 284.94,612.97 286.54,613.02 288.14,613.07 289.74,613.12 291.34,613.18 292.94,613.24 294.54,613.29 296.15,613.35 297.75,613.41 299.35,613.48 300.95,613.54 302.55,613.62 304.15,613.7 305.75,613.8 307.35,613.91 308.95,614.03 310.55,614.15 312.16,614.28 313.76,614.4 315.36,614.53 316.96,614.66 318.56,614.78 320.16,614.89 321.76,615 323.36,615.09 324.96,615.18 326.56,615.26 328.17,615.33 329.77,615.4 331.37,615.47 332.97,615.54 334.57,615.6 336.17,615.67 337.77,615.73 339.37,615.8 340.97,615.87 342.57,615.94 344.18,616.02 345.78,616.09 347.38,616.17 348.98,616.25 350.58,616.33 352.18,616.41 353.78,616.49 355.38,616.57 356.98,616.65 358.58,616.73 360.19,616.81 361.79,616.89 363.39,616.97 364.99,617.05 366.59,617.13 368.19,617.2 369.79,617.27 371.39,617.34 372.99,617.4 374.59,617.46 376.2,617.52 377.8,617.58 379.4,617.63 381,617.69 382.6,617.74" fill="none" stroke="#333" stroke-width="1.2" stroke-dasharray="1.5 4.9"/>
<polyline points="64,598.4 65.56,598.39 67.13,598.36 68.69,598.32 70.26,598.27 71.82,598.2 73.39,598.13 74.95,598.04 76.52,597.96 78.08,597.86 79.65,597.73 81.21,597.57 82.78,597.38 84.34,597.16 85.91,596.92 87.47,596.66 89.04,596.39 90.6,596.12 92.17,595.81 93.73,595.45 95.3,595.05 96.86,594.62 98.43,594.17 99.99,593.71 101.56,593.23 103.12,592.76 104.69,592.29 106.25,591.8 107.82,591.28 109.38,590.76 110.95,590.22 112.51,589.68 114.08,589.15 115.64,588.63 117.21,588.13 118.77,587.64 120.34,587.15 121.9,586.67 123.47,586.2 125.03,585.72 126.6,585.26 128.16,584.79 129.73,584.33 131.29,583.87 132.86,583.41 134.42,582.94 135.99,582.48 137.55,582.02 139.12,581.56 140.68,581.09 142.25,580.62 143.81,580.15 145.38,579.68 146.94,579.21 148.51,578.74 150.07,578.28 151.64,577.81 153.2,577.35 154.77,576.88 156.33,576.42 157.9,575.95 159.46,575.47 161.03,575 162.59,574.52 164.16,574.03 165.72,573.53 167.29,573.03 168.85,572.52 170.42,572 171.98,571.47 173.55,570.94 175.11,570.4 176.68,569.85 178.24,569.29 179.81,568.73 181.37,568.16 182.94,567.59 184.5,567.01 186.07,566.42 187.63,565.83 189.2,565.24 190.76,564.64 192.33,564.04 193.89,563.44 195.46,562.83 197.02,562.22 198.59,561.61 200.15,560.99 201.72,560.37 203.28,559.75 204.85,559.12 206.41,558.49 207.98,557.86 209.54,557.21 211.11,556.57 212.67,555.91 214.24,555.25 215.8,554.58 217.37,553.91 218.93,553.23 220.5,552.54 222.06,551.83 223.63,551.13 225.19,550.41 226.76,549.68 228.32,548.94 229.89,548.2 231.45,547.44 233.02,546.68 234.58,545.91 236.15,545.13 237.71,544.34 239.28,543.55 240.84,542.74 242.41,541.93 243.97,541.11 245.54,540.28 247.1,539.44 248.67,538.59 250.23,537.74 251.8,536.88 253.36,536.02 254.93,535.16 256.49,534.28 258.06,533.4 259.62,532.51 261.19,531.61 262.75,530.7 264.32,529.77 265.88,528.83 267.45,527.88 269.01,526.9 270.58,525.91 272.14,524.89 273.71,523.86 275.27,522.8 276.84,521.72 278.4,520.59 279.97,519.42 281.53,518.21 283.1,516.96 284.66,515.68 286.23,514.38 287.79,513.06 289.36,511.73 290.92,510.39 292.49,509.03 294.05,507.65 295.62,506.25 297.18,504.82 298.75,503.36 300.31,501.87 301.88,500.34 303.44,498.78 305.01,497.17 306.57,495.52 308.14,493.82 309.7,492.1 311.27,490.34 312.83,488.56 314.4,486.76 315.96,484.95 317.53,483.12 319.09,481.25 320.66,479.35 322.22,477.43 323.79,475.48 325.35,473.53 326.92,471.59 328.48,469.65 330.05,467.74 331.61,465.89 333.18,464.08 334.74,462.22 336.31,460.26 337.87,458.12 339.44,455.79 341,453.28 342.57,450.62 344.13,447.85 345.7,444.98 347.26,442.04 348.83,439.06 350.39,436.07 351.96,433.08 353.52,430.13 355.09,427.24 356.65,424.43 358.22,421.63 359.78,418.85 361.35,416.06 362.91,413.27 364.48,410.49 366.04,407.7 367.61,404.92 369.17,402.15 370.74,399.37 372.3,396.59 373.87,393.82 375.43,391.05 375.43,589.95 373.87,586.8 372.3,584.31 370.74,582.74 369.17,581.49 367.61,580.46 366.04,579.57 364.48,578.72 362.91,577.93 361.35,577.2 359.78,576.52 358.22,575.89 356.65,575.29 355.09,574.71 353.52,574.14 351.96,573.57 350.39,573.02 348.83,572.48 347.26,571.96 345.7,571.47 344.13,571.01 342.57,570.59 341,570.21 339.44,569.88 337.87,569.54 336.31,569.21 334.74,568.9 333.18,568.63 331.61,568.44 330.05,568.35 328.48,568.35 326.92,568.41 325.35,568.52 323.79,568.65 322.22,568.79 320.66,568.93 319.09,569.06 317.53,569.2 315.96,569.34 314.4,569.5 312.83,569.66 311.27,569.83 309.7,570 308.14,570.18 306.57,570.35 305.01,570.53 303.44,570.71 301.88,570.89 300.31,571.07 298.75,571.24 297.18,571.41 295.62,571.57 294.05,571.74 292.49,571.9 290.92,572.06 289.36,572.23 287.79,572.4 286.23,572.57 284.66,572.75 283.1,572.94 281.53,573.14 279.97,573.35 278.4,573.56 276.84,573.8 275.27,574.04 273.71,574.32 272.14,574.62 270.58,574.94 269.01,575.28 267.45,575.64 265.88,576.01 264.32,576.39 262.75,576.79 261.19,577.18 259.62,577.59 258.06,577.99 256.49,578.4 254.93,578.8 253.36,579.19 251.8,579.57 250.23,579.95 248.67,580.31 247.1,580.67 245.54,581.02 243.97,581.37 242.41,581.72 240.84,582.07 239.28,582.42 237.71,582.77 236.15,583.12 234.58,583.47 233.02,583.83 231.45,584.19 229.89,584.56 228.32,584.94 226.76,585.33 225.19,585.72 223.63,586.13 222.06,586.54 220.5,586.98 218.93,587.43 217.37,587.9 215.8,588.37 214.24,588.86 212.67,589.36 211.11,589.86 209.54,590.37 207.98,590.89 206.41,591.4 204.85,591.92 203.28,592.43 201.72,592.94 200.15,593.44 198.59,593.94 197.02,594.43 195.46,594.91 193.89,595.38 192.33,595.83 190.76,596.27 189.2,596.7 187.63,597.11 186.07,597.51 184.5,597.91 182.94,598.3 181.37,598.68 179.81,599.06 178.24,599.43 176.68,599.8 175.11,600.17 173.55,600.54 171.98,600.9 170.42,601.27 168.85,601.64 167.29,602.02 165.72,602.39 164.16,602.76 162.59,603.14 161.03,603.51 159.46,603.88 157.9,604.25 156.33,604.62 154.77,604.98 153.2,605.35 151.64,605.7 150.07,606.06 148.51,606.41 146.94,606.75 145.38,607.09 143.81,607.42 142.25,607.74 140.68,608.05 139.12,608.36 137.55,608.67 135.99,608.98 134.42,609.28 132.86,609.58 131.29,609.87 129.73,610.16 128.16,610.44 126.6,610.72 125.03,610.99 123.47,611.25 121.9,611.5 120.34,611.75 118.77,611.98 117.21,612.2 115.64,612.41 114.08,612.61 112.51,612.8 110.95,612.99 109.38,613.17 107.82,613.34 106.25,613.51 104.69,613.68 103.12,613.84 101.56,614.01 99.99,614.17 98.43,614.32 96.86,614.48 95.3,614.64 93.73,614.8 92.17,614.97 90.6,615.13 89.04,615.3 87.47,615.47 85.91,615.63 84.34,615.8 82.78,615.96 81.21,616.13 79.65,616.29 78.08,616.45 76.52,616.62 74.95,616.78 73.39,616.94 71.82,617.1 70.26,617.26 68.69,617.42 67.13,617.58 65.56,617.74 64,617.9 64,598.4" fill="none" stroke="#383838" stroke-width="1"/>
<polyline points="64,615.46 65.56,614.93 67.13,614.4 68.69,613.87 70.26,613.34 71.82,612.82 73.39,612.3 74.95,611.79 76.52,611.28 78.08,610.77 79.65,610.26 81.21,609.76 82.78,609.27 84.34,608.77 85.91,608.28 87.47,607.8 89.04,607.31 90.6,606.83 92.17,606.36 93.73,605.88 95.3,605.41 96.86,604.95 98.43,604.48 99.99,604.02 101.56,603.57 103.12,603.11 104.69,602.66 106.25,602.21 107.82,601.77 109.38,601.33 110.95,600.89 112.51,600.46 114.08,600.03 115.64,599.6 117.21,599.18 118.77,598.77 120.34,598.36 121.9,597.95 123.47,597.55 125.03,597.16 126.6,596.77 128.16,596.38 129.73,595.99 131.29,595.61 132.86,595.22 134.42,594.84 135.99,594.46 137.55,594.07 139.12,593.69 140.68,593.3 142.25,592.9 143.81,592.51 145.38,592.11 146.94,591.71 148.51,591.32 150.07,590.92 151.64,590.52 153.2,590.12 154.77,589.72 156.33,589.32 157.9,588.92 159.46,588.52 161.03,588.11 162.59,587.71 164.16,587.3 165.72,586.9 167.29,586.49 168.85,586.08 170.42,585.67 171.98,585.26 173.55,584.84 175.11,584.43 176.68,584.02 178.24,583.6 179.81,583.19 181.37,582.77 182.94,582.35 184.5,581.93 186.07,581.51 187.63,581.09 189.2,580.66 190.76,580.24 192.33,579.81 193.89,579.37 195.46,578.94 197.02,578.5 198.59,578.06 200.15,577.62 201.72,577.17 203.28,576.73 204.85,576.28 206.41,575.83 207.98,575.38 209.54,574.92 211.11,574.47 212.67,574.01 214.24,573.54 215.8,573.07 217.37,572.6 218.93,572.13 220.5,571.65 222.06,571.16 223.63,570.67 225.19,570.18 226.76,569.68 228.32,569.18 229.89,568.68 231.45,568.17 233.02,567.66 234.58,567.14 236.15,566.62 237.71,566.09 239.28,565.56 240.84,565.03 242.41,564.49 243.97,563.94 245.54,563.39 247.1,562.83 248.67,562.27 250.23,561.7 251.8,561.12 253.36,560.54 254.93,559.95 256.49,559.35 258.06,558.75 259.62,558.14 261.19,557.53 262.75,556.91 264.32,556.28 265.88,555.65 267.45,555.01 269.01,554.37 270.58,553.73 272.14,553.07 273.71,552.42 275.27,551.75 276.84,551.09 278.4,550.42 279.97,549.75 281.53,549.07 283.1,548.39 284.66,547.71 286.23,547.02 287.79,546.32 289.36,545.61 290.92,544.9 292.49,544.18 294.05,543.45 295.62,542.71 297.18,541.96 298.75,541.2 300.31,540.42 301.88,539.63 303.44,538.83 305.01,538.02 306.57,537.18 308.14,536.34 309.7,535.47 311.27,534.6 312.83,533.71 314.4,532.8 315.96,531.89 317.53,530.97 319.09,530.04 320.66,529.09 322.22,528.14 323.79,527.19 325.35,526.22 326.92,525.26 328.48,524.28 330.05,523.31 331.61,522.33 333.18,521.35 334.74,520.37 336.31,519.38 337.87,518.38 339.44,517.38 341,516.37 342.57,515.34 344.13,514.3 345.7,513.25 347.26,512.17 348.83,511.09 350.39,509.98 351.96,508.85 353.52,507.69 355.09,506.51 356.65,505.31 358.22,504.07 359.78,502.8 361.35,501.49 362.91,500.15 364.48,498.79 366.04,497.4 367.61,495.98 369.17,494.53 370.74,493.07 372.3,491.58 373.87,490.07 375.43,488.55" fill="none" stroke="#e20a10" stroke-width="3"/>
<polyline points="64,598.07 65.6,598.25 67.2,598.42 68.8,598.59 70.4,598.76 72.01,598.93 73.61,599.09 75.21,599.26 76.81,599.43 78.41,599.59 80.01,599.76 81.61,599.93 83.21,600.09 84.81,600.25 86.41,600.42 88.02,600.58 89.62,600.74 91.22,600.9 92.82,601.07 94.42,601.23 96.02,601.39 97.62,601.56 99.22,601.72 100.82,601.88 102.42,602.05 104.03,602.21 105.63,602.37 107.23,602.52 108.83,602.68 110.43,602.83 112.03,602.98 113.63,603.13 115.23,603.27 116.83,603.41 118.43,603.55 120.04,603.69 121.64,603.82 123.24,603.96 124.84,604.09 126.44,604.22 128.04,604.35 129.64,604.47 131.24,604.59 132.84,604.71 134.44,604.83 136.05,604.95 137.65,605.06 139.25,605.16 140.85,605.27 142.45,605.37 144.05,605.47 145.65,605.57 147.25,605.67 148.85,605.76 150.45,605.86 152.06,605.95 153.66,606.05 155.26,606.14 156.86,606.22 158.46,606.31 160.06,606.39 161.66,606.47 163.26,606.55 164.86,606.62 166.46,606.7 168.07,606.76 169.67,606.83 171.27,606.89 172.87,606.96 174.47,607.02 176.07,607.09 177.67,607.16 179.27,607.22 180.87,607.29 182.47,607.35 184.08,607.41 185.68,607.46 187.28,607.51 188.88,607.55 190.48,607.59 192.08,607.62 193.68,607.64 195.28,607.66 196.88,607.66 198.48,607.66 200.09,607.66 201.69,607.65 203.29,607.64 204.89,607.63 206.49,607.61 208.09,607.6 209.69,607.58 211.29,607.55 212.89,607.53 214.49,607.51 216.1,607.48 217.7,607.45 219.3,607.42 220.9,607.39 222.5,607.35 224.1,607.32 225.7,607.26 227.3,607.18 228.9,607.07 230.5,606.95 232.11,606.82 233.71,606.67 235.31,606.51 236.91,606.34 238.51,606.16 240.11,605.98 241.71,605.79 243.31,605.61 244.91,605.43 246.51,605.25 248.12,605.08 249.72,604.91 251.32,604.76 252.92,604.6 254.52,604.44 256.12,604.28 257.72,604.12 259.32,603.95 260.92,603.79 262.52,603.62 264.13,603.45 265.73,603.28 267.33,603.1 268.93,602.92 270.53,602.73 272.13,602.53 273.73,602.32 275.33,602.11 276.93,601.91 278.53,601.7 280.14,601.5 281.74,601.3 283.34,601.1 284.94,600.91 286.54,600.71 288.14,600.51 289.74,600.3 291.34,600.1 292.94,599.89 294.54,599.67 296.15,599.45 297.75,599.22 299.35,598.99 300.95,598.75 302.55,598.5 304.15,598.25 305.75,598 307.35,597.74 308.95,597.48 310.55,597.21 312.16,596.93 313.76,596.65 315.36,596.37 316.96,596.07 318.56,595.78 320.16,595.47 321.76,595.16 323.36,594.83 324.96,594.5 326.56,594.17 328.17,593.82 329.77,593.47 331.37,593.1 332.97,592.71 334.57,592.31 336.17,591.9 337.77,591.48 339.37,591.04 340.97,590.59 342.57,590.13 344.18,589.65 345.78,589.17 347.38,588.68 348.98,588.18 350.58,587.66 352.18,587.14 353.78,586.62 355.38,586.08 356.98,585.53 358.58,584.97 360.19,584.39 361.79,583.8 363.39,583.2 364.99,582.58 366.59,581.95 368.19,581.31 369.79,580.65 371.39,579.99 372.99,579.31 374.59,578.62 376.2,577.92 377.8,577.2 379.4,576.48 381,575.74 382.6,575" fill="none" stroke="#000" stroke-width="4.8"/>
<text x="58.5" y="623.4" font-size="15.8" text-anchor="end" fill="#000" font-weight="normal" >0%</text>
<text x="58.5" y="542.15" font-size="15.8" text-anchor="end" fill="#000" font-weight="normal" >5%</text>
<text x="58.5" y="460.9" font-size="15.8" text-anchor="end" fill="#000" font-weight="normal" >10%</text>
<text x="58.5" y="379.65" font-size="15.8" text-anchor="end" fill="#000" font-weight="normal" >15%</text>
<text x="64" y="637.9" font-size="15.8" text-anchor="middle" fill="#000" font-weight="normal" >0</text>
<text x="117.1" y="637.9" font-size="15.8" text-anchor="middle" fill="#000" font-weight="normal" >2</text>
<text x="170.2" y="637.9" font-size="15.8" text-anchor="middle" fill="#000" font-weight="normal" >4</text>
<text x="223.3" y="637.9" font-size="15.8" text-anchor="middle" fill="#000" font-weight="normal" >6</text>
<text x="276.4" y="637.9" font-size="15.8" text-anchor="middle" fill="#000" font-weight="normal" >8</text>
<text x="329.5" y="637.9" font-size="15.8" text-anchor="middle" fill="#000" font-weight="normal" >10</text>
<text x="382.6" y="637.9" font-size="15.8" text-anchor="middle" fill="#000" font-weight="normal" >12</text>
<text x="222.3" y="657.7" font-size="16.3" text-anchor="middle" fill="#000" font-weight="normal" >Years on G-CSF Rx</text>
<text x="14.9" y="495.4" font-size="16.7" text-anchor="middle" fill="#000" font-weight="normal" transform="rotate(-90 14.9 495.4)">Hazard Rate per Year</text>
<text x="381.9" y="496.6" font-size="23.2" text-anchor="start" fill="#de0c14" font-weight="normal" >MDS/AML</text>
<text x="384" y="560.8" font-size="23.2" text-anchor="start" fill="#000" font-weight="normal" >Sepsis Death</text>
<text x="0.1" y="361.5" font-size="33" text-anchor="start" fill="#000" font-weight="bold" >B</text>
</g>
</svg>
</body></html>
